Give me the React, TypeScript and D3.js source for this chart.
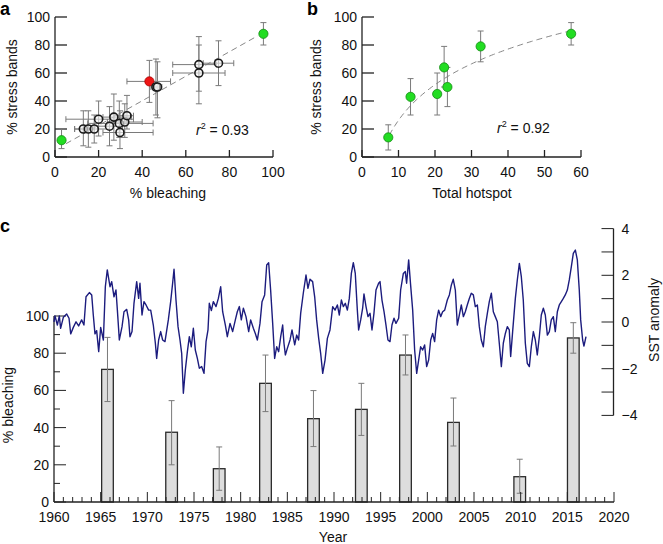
import { useEffect, useRef } from 'react';
import * as d3 from 'd3';

// ---- panel a: % bleaching vs % stress bands
const aBleach = [3, 13, 15.3, 18, 20, 25, 27, 29.5, 29.8, 32, 33, 43.3, 46.3, 47, 66, 66, 75, 95.6];
const aStress = [12, 20, 20, 20, 27, 22, 28.5, 24, 17.5, 25, 29.5, 54, 50, 50, 66, 60, 67, 88];
const aBleachLo = [3, 9, 13, 9, 5, 18, 22, 15, 22, 24, 27, 33, 44, 45, 54, 54, 68, 95.6];
const aBleachHi = [3, 17, 18, 25, 36, 31, 35, 45, 45, 40, 36, 53, 48, 49, 74, 78, 82, 95.6];
const aStressLo = [6, 8, 7, 10, 15, 8, 12, 14, 6, 14, 20, 39, 30, 28, 47, 38, 51, 80];
const aStressHi = [20, 33, 33, 30, 40, 36, 45, 40, 33, 38, 44, 69, 70, 68, 86, 80, 83, 96];
const aKind = ['green', 'open', 'open', 'open', 'open', 'open', 'open', 'open', 'open', 'open', 'open',
  'red', 'open', 'open', 'open', 'open', 'open', 'green'];

// ---- panel b: total hotspot vs % stress bands
const bHotspot = [7.2, 13.3, 20.6, 22.5, 23.4, 32.5, 57.3];
const bStress = [14, 43, 45, 64, 50, 79, 88];
const bStressLo = [5, 30, 30, 50, 36, 68, 80];
const bStressHi = [23, 56, 60, 79, 64, 90, 96];

// ---- panel c: bleaching events
const barYears = [1965.73, 1972.6, 1977.7, 1982.66, 1987.8, 1992.93, 1997.66, 2002.8, 2009.9, 2015.64];
const barBleach = [71.3, 37.5, 17.9, 63.8, 44.8, 49.8, 79, 42.8, 13.6, 88.2];
const barLo = [54, 20, 6.3, 48.6, 29.8, 35.8, 68.3, 30.1, 4.7, 80];
const barHi = [88.5, 54.5, 29.6, 79, 59.9, 63.8, 89.8, 55.9, 23, 96.4];

// ---- panel c: SST anomaly
const sstYear = [
  1960.00, 1960.11, 1960.36, 1960.57, 1960.71, 1961.00, 1961.36, 1961.61, 1961.79, 1962.07,
  1962.36, 1962.64, 1962.96, 1963.21, 1963.43, 1963.79, 1964.04, 1964.21, 1964.39, 1964.57,
  1964.79, 1965.00, 1965.29, 1965.50, 1965.71, 1966.00, 1966.18, 1966.43, 1966.64, 1966.79,
  1967.00, 1967.29, 1967.50, 1967.79, 1968.00, 1968.14, 1968.36, 1968.57, 1968.86, 1969.07,
  1969.21, 1969.43, 1969.64, 1969.86, 1970.14, 1970.36, 1970.64, 1970.86, 1971.00, 1971.21,
  1971.43, 1971.64, 1971.89, 1972.25, 1972.50, 1972.71, 1972.86, 1973.07, 1973.29, 1973.50,
  1973.68, 1973.86, 1974.07, 1974.29, 1974.50, 1974.71, 1974.93, 1975.14, 1975.36, 1975.57,
  1975.82, 1976.07, 1976.29, 1976.50, 1976.64, 1976.86, 1977.07, 1977.36, 1977.61, 1977.86,
  1978.07, 1978.36, 1978.57, 1978.86, 1979.14, 1979.43, 1979.64, 1979.86, 1980.07, 1980.29,
  1980.57, 1980.86, 1981.07, 1981.36, 1981.57, 1981.79, 1982.07, 1982.29, 1982.57, 1982.79,
  1983.00, 1983.21, 1983.43, 1983.64, 1983.86, 1984.07, 1984.29, 1984.50, 1984.64, 1984.79,
  1985.00, 1985.29, 1985.50, 1985.79, 1986.00, 1986.21, 1986.43, 1986.71, 1987.00, 1987.21,
  1987.43, 1987.71, 1987.93, 1988.14, 1988.36, 1988.57, 1988.79, 1989.04, 1989.29, 1989.57,
  1989.86, 1990.11, 1990.36, 1990.57, 1990.79, 1991.00, 1991.21, 1991.43, 1991.64, 1991.86,
  1992.07, 1992.28, 1992.50, 1992.64, 1992.86, 1993.07, 1993.21, 1993.43, 1993.64, 1993.86,
  1994.07, 1994.28, 1994.50, 1994.78, 1994.93, 1995.14, 1995.36, 1995.57, 1995.78, 1996.00,
  1996.21, 1996.43, 1996.64, 1996.93, 1997.14, 1997.43, 1997.64, 1997.78, 1998.00, 1998.21,
  1998.43, 1998.64, 1998.86, 1999.07, 1999.28, 1999.50, 1999.71, 1999.93, 2000.14, 2000.36,
  2000.57, 2000.78, 2001.00, 2001.21, 2001.43, 2001.64, 2001.86, 2002.14, 2002.36, 2002.57,
  2002.78, 2003.00, 2003.21, 2003.43, 2003.64, 2003.86, 2004.07, 2004.28, 2004.50, 2004.71,
  2004.93, 2005.14, 2005.36, 2005.57, 2005.78, 2006.00, 2006.21, 2006.43, 2006.64, 2006.86,
  2007.07, 2007.28, 2007.50, 2007.71, 2007.93, 2008.14, 2008.36, 2008.57, 2008.78, 2008.93,
  2009.14, 2009.43, 2009.64, 2009.86, 2010.07, 2010.28, 2010.50, 2010.71, 2010.93, 2011.14,
  2011.36, 2011.57, 2011.78, 2012.00, 2012.21, 2012.43, 2012.64, 2012.86, 2013.07, 2013.28,
  2013.50, 2013.71, 2013.93, 2014.14, 2014.36, 2014.57, 2014.78, 2015.00, 2015.21, 2015.43,
  2015.64, 2015.86, 2016.07, 2016.28, 2016.43, 2016.64, 2016.78, 2017.00,
];
const sstAnom = [
  0.01, 0.26, -0.13, 0.26, -0.27, 0.20, 0.34, 0.16, -0.51, -0.23,
  0.01, -0.17, 0.09, -0.13, 1.08, 1.26, 1.16, 0.30, -0.51, -0.37,
  -1.27, -0.23, -0.77, 1.51, 2.23, 1.51, 1.73, 1.08, 1.37, 0.51,
  -0.77, -0.20, 0.44, 0.54, 0.09, -0.63, -0.41, 0.80, 1.73, 1.01,
  1.66, 0.30, 0.87, 0.73, 0.51, 0.51, -0.13, -0.91, -1.56, -0.77,
  -0.41, -0.77, -0.84, 0.09, 0.87, 1.66, 2.26, 0.94, -0.20, -0.77,
  -1.34, -3.05, -2.06, -1.27, -0.63, -1.06, -0.27, -1.20, -1.56, -1.98,
  -1.91, -2.20, -0.84, -0.34, 0.80, 0.49, 0.87, 0.66, 1.01, 1.51,
  0.44, -0.13, -0.63, -0.06, -0.41, 0.09, 0.44, 0.66, 0.09, 0.59,
  0.23, -0.41, 0.09, -0.27, -0.49, -0.77, -0.06, 0.87, 1.16, 2.44,
  2.54, 1.37, -0.06, -1.56, -1.06, -1.27, -0.63, -0.13, -0.91, -1.41,
  -1.13, -0.77, -0.34, -0.98, -0.56, -0.77, 0.37, 1.23, 2.01, 1.44,
  1.83, 1.73, 1.08, 0.09, -0.70, -1.34, -2.20, -1.63, -0.70, -0.34,
  0.66, 0.51, 0.73, 0.30, 0.94, 0.66, 0.80, 0.51, 1.01, 2.08,
  2.54, 2.08, 0.51, -0.34, 0.09, 0.59, 1.20, 0.66, 0.23, 0.37,
  -0.34, 0.37, 1.37, 1.66, 1.73, 0.94, 0.44, -0.13, -0.77, -0.84,
  -0.13, 0.16, -0.06, 0.16, 1.37, 2.08, 2.16, 1.66, 2.66, 1.58,
  0.51, -1.20, -2.20, -1.63, -1.06, -1.20, -0.98, -1.91, -1.63, -0.77,
  -0.49, -0.84, 0.09, 0.51, 0.23, 0.44, 0.51, 0.94, 1.16, 1.58,
  1.83, 1.37, -0.13, 0.30, 0.73, 0.23, 0.44, 0.73, 1.01, 1.23,
  1.16, 0.66, 0.73, -0.20, -0.77, -1.06, -0.20, 0.37, 0.87, 1.23,
  0.44, 0.23, 0.01, -0.91, -1.91, -0.91, -0.49, -0.20, -0.34, -1.48,
  -0.41, 1.01, 1.80, 2.51, 1.94, 0.94, -0.91, -1.77, -1.91, -1.06,
  -0.41, -0.77, -1.41, -0.63, 0.30, 0.59, 0.30, -0.56, -0.41, 0.09,
  0.23, -0.41, 0.44, 0.73, 0.87, 1.01, 1.16, 1.37, 1.80, 2.37,
  2.94, 3.08, 2.66, 1.37, 0.09, -0.77, -1.03, -0.63,
];

const pctTicks = [0, 20, 40, 60, 80, 100];
const hotspotTicks = [0, 10, 20, 30, 40, 50, 60];
const yearTicks = [1960, 1965, 1970, 1975, 1980, 1985, 1990, 1995, 2000, 2005, 2010, 2015, 2020];
const sstTicks = [-4, -3, -2, -1, 0, 1, 2, 3, 4];

const FONT = '"Liberation Sans", Arial, Helvetica, sans-serif';
const AXIS = '#222';
const ERR = '#7a7a7a';

const App = () => {
  const svgRef = useRef<SVGSVGElement | null>(null);

  useEffect(() => {
    if (!svgRef.current) return;
    const svg = d3.select(svgRef.current);
    svg.selectAll('*').remove();
    svg.style('font-family', FONT);

    const text = (x: number, y: number, s: string, anchor = 'middle', size = 14) =>
      svg.append('text')
        .attr('x', x)
        .attr('y', y)
        .attr('text-anchor', anchor)
        .style('font-size', `${size}px`)
        .attr('fill', '#111')
        .text(s);

    const vText = (x: number, y: number, s: string) =>
      svg.append('text')
        .attr('transform', `translate(${x},${y}) rotate(-90)`)
        .attr('text-anchor', 'middle')
        .style('font-size', '14px')
        .attr('fill', '#111')
        .text(s);

    const line = (x1: number, y1: number, x2: number, y2: number, stroke = AXIS, w = 1.3) =>
      svg.append('line')
        .attr('x1', x1).attr('y1', y1)
        .attr('x2', x2).attr('y2', y2)
        .attr('stroke', stroke)
        .attr('stroke-width', w);

    const vErr = (x: number, y1: number, y2: number) => {
      line(x, y1, x, y2, ERR, 1);
      line(x - 3, y1, x + 3, y1, ERR, 1);
      line(x - 3, y2, x + 3, y2, ERR, 1);
    };
    const hErr = (y: number, x1: number, x2: number) => {
      line(x1, y, x2, y, ERR, 1);
      line(x1, y - 3, x1, y + 3, ERR, 1);
      line(x2, y - 3, x2, y + 3, ERR, 1);
    };

    const r2 = (x: number, y: number, val: string) => {
      const t = svg.append('text')
        .attr('x', x).attr('y', y)
        .style('font-size', '14px')
        .attr('fill', '#111');
      t.append('tspan').style('font-style', 'italic').text('r');
      t.append('tspan').attr('dy', -6).style('font-size', '9px').text('2');
      t.append('tspan').attr('dy', 6).text(` = ${val}`);
    };

    const frame = (x: d3.ScaleLinear<number, number>, y: d3.ScaleLinear<number, number>, xTicks: number[]) => {
      const [x0, x1] = x.range();
      const y0 = y(0);
      line(x0, y0, x1, y0);
      line(x0, y0, x0, y(100));
      xTicks.forEach(v => {
        line(x(v), y0, x(v), y0 - 7);
        text(x(v), y0 + 20, String(v));
      });
      pctTicks.forEach(v => {
        line(x0, y(v), x0 + 12, y(v));
        text(x0 - 5, y(v) + 5, String(v), 'end');
      });
    };

    // ---------- panel a
    const xa = d3.scaleLinear().domain([0, 100]).range([55, 273]);
    const ya = d3.scaleLinear().domain([0, 100]).range([157, 17]);
    frame(xa, ya, pctTicks);

    svg.append('line')
      .attr('x1', xa(5)).attr('y1', ya(5.1 + 0.876 * 5))
      .attr('x2', xa(93)).attr('y2', ya(5.1 + 0.876 * 93))
      .attr('stroke', '#888')
      .attr('stroke-width', 1)
      .attr('stroke-dasharray', '6,4');

    aBleach.forEach((b, i) => {
      if (aBleachHi[i] > aBleachLo[i]) hErr(ya(aStress[i]), xa(aBleachLo[i]), xa(aBleachHi[i]));
      vErr(xa(b), ya(aStressLo[i]), ya(aStressHi[i]));
    });
    aBleach.forEach((b, i) => {
      const k = aKind[i];
      svg.append('circle')
        .attr('cx', xa(b))
        .attr('cy', ya(aStress[i]))
        .attr('r', k === 'open' ? 4 : 4.6)
        .attr('fill', k === 'green' ? '#22dd22' : k === 'red' ? '#ee1515' : '#f4f4f4')
        .attr('fill-opacity', k === 'open' ? 0.6 : 1)
        .attr('stroke', k === 'green' ? '#138a13' : k === 'red' ? '#a00' : '#1a1a1a')
        .attr('stroke-width', k === 'open' ? 1.6 : 0.8);
    });
    r2(196, 135, '0.93');
    text(168, 198, '% bleaching');
    vText(17, 87, '% stress bands');
    svg.append('text').attr('x', 0).attr('y', 15)
      .style('font-size', '18px').style('font-weight', 'bold').text('a');

    // ---------- panel b
    const xb = d3.scaleLinear().domain([0, 60]).range([362, 581]);
    const yb = d3.scaleLinear().domain([0, 100]).range([157, 17]);
    frame(xb, yb, hotspotTicks);

    const fit = d3.range(7.5, 57.01, 0.5);
    svg.append('path')
      .datum(fit)
      .attr('fill', 'none')
      .attr('stroke', '#888')
      .attr('stroke-width', 1)
      .attr('stroke-dasharray', '6,4')
      .attr('d', d3.line<number>().x(d => xb(d)).y(d => yb(-58.3 + 36.7 * Math.log(d))));

    bHotspot.forEach((h, i) => vErr(xb(h), yb(bStressLo[i]), yb(bStressHi[i])));
    bHotspot.forEach((h, i) => {
      svg.append('circle')
        .attr('cx', xb(h))
        .attr('cy', yb(bStress[i]))
        .attr('r', 4.6)
        .attr('fill', '#22dd22')
        .attr('stroke', '#138a13')
        .attr('stroke-width', 0.8);
    });
    r2(497, 133, '0.92');
    text(472, 198, 'Total hotspot');
    vText(321, 87, '% stress bands');
    svg.append('text').attr('x', 307).attr('y', 15)
      .style('font-size', '18px').style('font-weight', 'bold').text('b');

    // ---------- panel c
    const xc = d3.scaleLinear().domain([1960, 2020]).range([54, 614]);
    const yc = d3.scaleLinear().domain([0, 100]).range([502, 316]);
    const ys = d3.scaleLinear().domain([-4, 4]).range([415.4, 228.6]);
    const base = yc(0);

    const barW = xc(1961.25) - xc(1960);
    barYears.forEach((yr, i) => {
      svg.append('rect')
        .attr('x', xc(yr) - barW / 2)
        .attr('y', yc(barBleach[i]))
        .attr('width', barW)
        .attr('height', base - yc(barBleach[i]))
        .attr('fill', '#dddddd')
        .attr('stroke', '#2a2a2a')
        .attr('stroke-width', 1.3);
      vErr(xc(yr), yc(barLo[i]), yc(barHi[i]));
    });

    // axes
    line(xc(1960), base, xc(2020), base);
    line(xc(1960), base, xc(1960), yc(100));
    d3.range(1960, 2021).forEach(yr => {
      const major = yr % 5 === 0;
      line(xc(yr), base, xc(yr), base - (major ? 10 : 5), AXIS, 1);
    });
    yearTicks.forEach(yr => text(xc(yr), base + 20, String(yr)));
    d3.range(0, 101, 10).forEach(v => {
      const major = v % 20 === 0;
      line(xc(1960), yc(v), xc(1960) + (major ? 12 : 6), yc(v), AXIS, 1);
      if (major) text(xc(1960) - 5, yc(v) + 5, String(v), 'end');
    });

    const xr = 613.5;
    line(xr, ys(-4), xr, ys(4));
    sstTicks.forEach(v => {
      line(xr, ys(v), xr - 12, ys(v), AXIS, 1);
      if (v % 2 === 0) text(xr + 8, ys(v) + 5, v < 0 ? `\u2212${-v}` : String(v), 'start');
    });

    const sst = sstYear.map((y, i) => [y, sstAnom[i]] as [number, number]);
    svg.append('path')
      .datum(sst)
      .attr('fill', 'none')
      .attr('stroke', '#1c1c7e')
      .attr('stroke-width', 1.4)
      .attr('stroke-linejoin', 'round')
      .attr('d', d3.line<[number, number]>().x(d => xc(d[0])).y(d => ys(d[1])));

    text(333, 542, 'Year');
    vText(13, 405, '% bleaching');
    vText(659, 320, 'SST anomaly');
    svg.append('text').attr('x', 0).attr('y', 232)
      .style('font-size', '18px').style('font-weight', 'bold').text('c');
  }, []);

  return (
    <svg
      ref={svgRef}
      width={663}
      height={544}
      style={{ position: 'absolute', left: 0, top: 0, background: '#fff' }}
    />
  );
};

export default App;
